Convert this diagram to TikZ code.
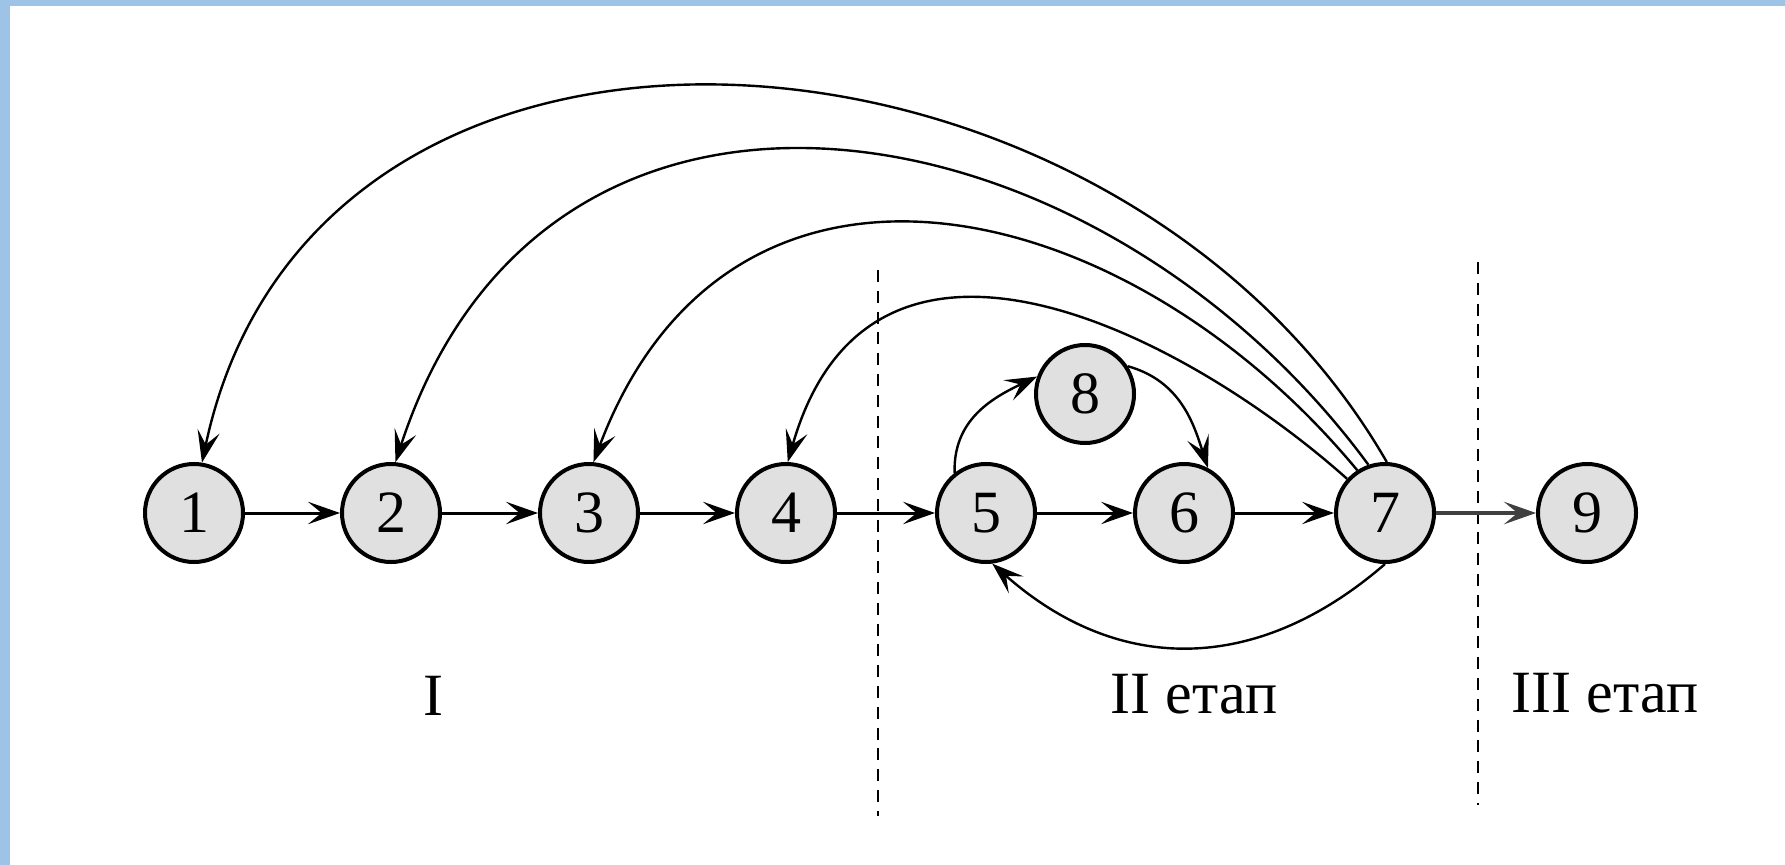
\documentclass[tikz,border=0pt]{standalone}
\usepackage{fontspec}
\setmainfont{Liberation Serif}
\usetikzlibrary{arrows.meta}
\definecolor{frameblue}{RGB}{157,195,230}
\begin{document}
\begin{tikzpicture}[x=0.25pt,y=-0.25pt,
  vtx/.style={circle,draw=black,line width=1pt,fill=black!12,minimum size=24.5pt,inner sep=0pt,font=\fontsize{15}{18}\selectfont},
  tip/.style={-{Stealth[length=8pt,width=5.6pt,inset=3.4pt]}},
  arr/.style={tip,line width=0.75pt},
  carr/.style={tip,line width=0.6pt},
  sep/.style={line width=0.65pt,dash pattern=on 3pt off 2.2pt},
  lab/.style={anchor=base,font=\fontsize{15}{18}\selectfont,inner sep=0pt}]
\useasboundingbox (0,0) rectangle (1785,865);
\fill[white] (0,0) rectangle (1785,865);
\fill[frameblue] (0,0) rectangle (1785,6);
\fill[frameblue] (0,0) rectangle (10,865);

% separators
\coordinate (s1a) at (878,270); \coordinate (s1b) at (878,816);
\coordinate (s2a) at (1478,262); \coordinate (s2b) at (1478,805);
\draw[sep] (s1a) -- (s1b);
\draw[sep] (s2a) -- (s2b);

% nodes
\node[vtx] (n1) at (194,513) {1};
\node[vtx] (n2) at (391,513) {2};
\node[vtx] (n3) at (589,513) {3};
\node[vtx] (n4) at (786,513) {4};
\node[vtx] (n5) at (986,513) {5};
\node[vtx] (n6) at (1184,513) {6};
\node[vtx] (n7) at (1385,513) {7};
\node[vtx] (n8) at (1085,394) {8};
\node[vtx] (n9) at (1587,513) {9};

% straight arrows
\draw[arr] (n1) -- (n2);
\draw[arr] (n2) -- (n3);
\draw[arr] (n3) -- (n4);
\draw[arr] (n4) -- (n5);
\draw[arr] (n5) -- (n6);
\draw[arr] (n6) -- (n7);
\draw[tip,line width=1pt,black!75] (n7) -- (n9);

% feedback arcs
\draw[carr] (n7.88) .. controls (1117,-6) and (315,-70) .. (n1.81);
\draw[carr] (n7.109) .. controls (1096,95) and (546,0) .. (n2.85);
\draw[carr] (n7.123) .. controls (1125,190) and (730,100) .. (n3.85);
\draw[carr] (n7.138) .. controls (1186,335) and (871,170) .. (n4.88);
\draw[carr] (n7.270) .. controls (1257,675) and (1118,675) .. (n5.277);
\draw[carr] (n5.128) .. controls (953,420) and (992,398) .. (n8.160);
\draw[carr] (n8.33) .. controls (1181,381) and (1194,425) .. (n6.62);

% labels
\node[lab] (l1) at (433,715) {I};
\node[lab] (l2) at (1194,713) {II етап};
\node[lab] (l3) at (1605,712) {III етап};
\end{tikzpicture}
\end{document}
